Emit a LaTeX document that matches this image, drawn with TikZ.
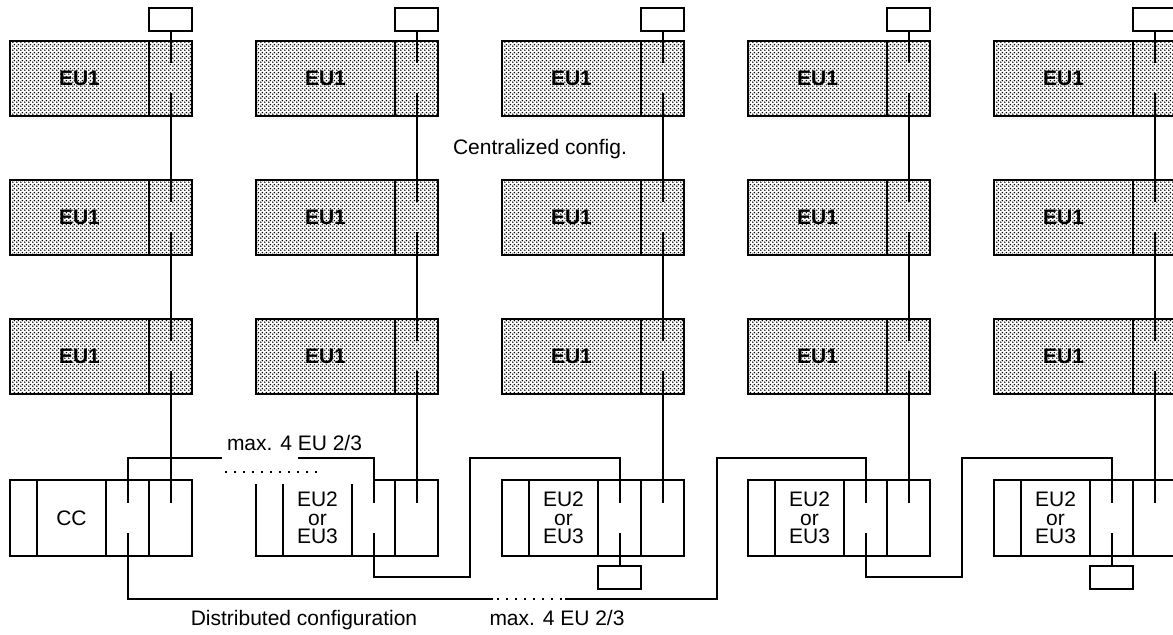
\documentclass[tikz,border=0pt]{standalone}
\usepackage{fontspec}
\setmainfont{Liberation Sans}
\usetikzlibrary{positioning,calc,patterns.meta}
\tikzdeclarepattern{
  name=eudots,
  type=uncolored,
  bounding box={(0pt,0pt) and (2pt,2pt)},
  tile size={(2pt,2pt)},
  code={
    \fill (0.5pt,0.5pt) circle (0.5pt);
    \fill (1.5pt,1.5pt) circle (0.5pt);
  }
}
\tikzset{
  unit/.style     ={draw,line width=1pt,outer sep=0pt,inner sep=0pt,minimum height=37.5pt},
  eubox/.style    ={unit,pattern=eudots,minimum width=69.5pt,font=\fontsize{10.5}{9.3}\selectfont\bfseries},
  euslot/.style   ={unit,pattern=eudots,minimum width=21.5pt},
  ccend/.style    ={unit,minimum width=13.5pt,minimum height=38pt},
  ccmain/.style   ={unit,minimum width=34.5pt,minimum height=38pt,align=center},
  ccslot/.style   ={unit,minimum width=21.5pt,minimum height=38pt},
  term/.style     ={draw,line width=1pt,outer sep=0pt,inner sep=0pt,minimum width=21.5pt,minimum height=11.5pt},
  bus/.style      ={line width=1pt},
  dotline/.style  ={line width=1pt,dash pattern=on 1pt off 3.5pt}
}

\begin{document}
\begin{tikzpicture}[x=0.5pt,y=-0.5pt, every node/.style={font=\fontsize{10.5}{9.3}\selectfont}]
    \useasboundingbox (0,0) rectangle (1173,635);
    \clip (0,0) rectangle (1173,635);
    \foreach \c/\txt in {1/CC, 2/{EU2\\or\\EU3}, 3/{EU2\\or\\EU3}, 4/{EU2\\or\\EU3}, 5/{EU2\\or\\EU3}} {
        \pgfmathsetmacro\cx{10+246*(\c-1)}
        \foreach \r in {1,2,3} {
            \pgfmathsetmacro\ry{41+139*(\r-1)}
            \node[eubox,anchor=north west] (e\c\r) at (\cx,\ry) {EU1};
            \node[euslot,right=0pt of e\c\r] (s\c\r) {};
        }
        \node[term,above=5pt of s\c1] (b\c) {};
        \node[ccend,anchor=north west] (ua\c) at (\cx,480) {};
        \node[ccmain,right=0pt of ua\c] (ub\c) {\txt};
        \node[ccslot,right=0pt of ub\c] (uc\c) {};
        \node[ccslot,right=0pt of uc\c] (ud\c) {};
        \coordinate (ci\c) at ([yshift=7.5pt]uc\c.center);
        \coordinate (co\c) at ([yshift=-7.5pt]uc\c.center);
    }
    \node[term,below=5pt of uc3] (t3) {};
    \node[term,below=5pt of uc5] (t5) {};
    \draw[white,line width=4pt] ([xshift=-1pt]ua2.north west) -- (uc2.north);

    \node[anchor=base] (cent) at (540,155) {Centralized config.};
    \node[anchor=base] (maxa) at (294.5,451) {max. 4 EU 2/3};
    \node[anchor=base] (maxb) at (557,626) {max. 4 EU 2/3};
    \node[anchor=base] (dist) at (304,626) {Distributed configuration};

    \foreach \c in {1,...,5} {
        \draw[bus] (b\c) -- ([yshift=7.5pt]s\c1.center);
        \draw[bus] ([yshift=-7.5pt]s\c1.center) -- ([yshift=7.5pt]s\c2.center);
        \draw[bus] ([yshift=-7.5pt]s\c2.center) -- ([yshift=7.5pt]s\c3.center);
        \draw[bus] ([yshift=-7.5pt]s\c3.center) -- ([yshift=7.5pt]ud\c.center);
    }

    \coordinate (gapl) at (222,458);
    \coordinate (gapr) at (298,458);
    \coordinate (da)   at (225,472);
    \coordinate (db)   at (317,472);
    \coordinate (j2)   at (470,577);
    \coordinate (dl)   at (493,599);
    \coordinate (dr)   at (565,599);
    \coordinate (j1)   at (717,599);
    \coordinate (j4)   at (962,577);
    \draw[bus] (ci1) |- (gapl);
    \draw[bus] (gapr) -| (ci2);
    \draw[dotline] (da) -- (db);
    \draw[bus] (co2) |- (j2) |- (ci3 |- gapl) -- (ci3);
    \draw[bus] (co3) -- (t3);
    \draw[bus] (co1) |- (dl);
    \draw[dotline] ([xshift=2pt]dl) -- ([xshift=-1.5pt]dr);
    \draw[bus] (dr) -- (j1) |- (ci4 |- gapl) -- (ci4);
    \draw[bus] (co4) |- (j4) |- (ci5 |- gapl) -- (ci5);
    \draw[bus] (co5) -- (t5);
\end{tikzpicture}
\end{document}
